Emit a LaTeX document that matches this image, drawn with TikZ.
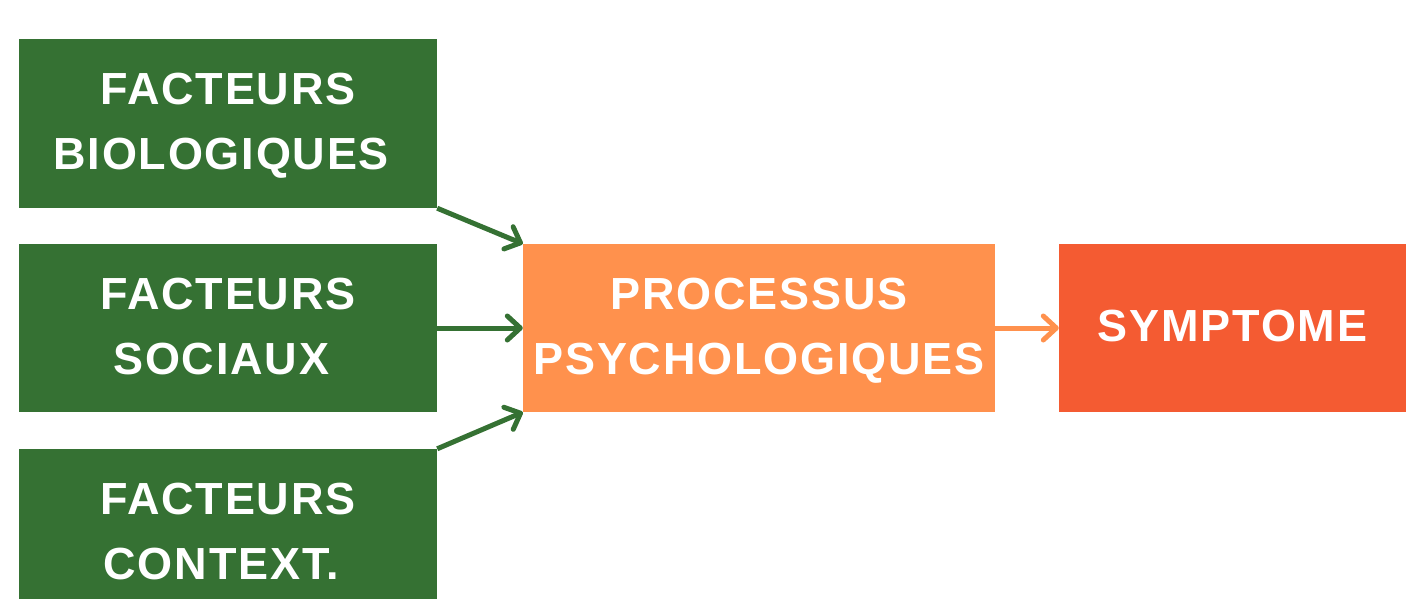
\documentclass[tikz,border=0pt]{standalone}
\usepackage{fontspec}
\setmainfont{Liberation Sans}[LetterSpace=4]
\usetikzlibrary{arrows.meta}
\definecolor{gbox}{HTML}{357133}
\definecolor{obox}{HTML}{FF914D}
\definecolor{rbox}{HTML}{F45B32}
\newcommand\mystrut{\rule[-13pt]{0pt}{53.5pt}}
\newcommand\tsp{\hspace*{0.3em}}
\tikzset{
  boxstyle/.style={fill=#1, draw=none, inner sep=0pt, text=white, align=center,
    minimum height=168pt, font=\fontsize{45}{65}\selectfont\bfseries},
  conn/.style={line width=5pt, draw=#1, -{Straight Barb[length=13pt,width=24pt,round]}}
}
\begin{document}
\begin{tikzpicture}[x=1pt,y=-1pt]
\useasboundingbox (0,0) rectangle (1406,598);
\clip (0,0) rectangle (1406,598);
\node[boxstyle=gbox, minimum width=418pt, minimum height=169pt] (bio) at (228,123.5) {\mystrut FACTEURS\\\mystrut BIOLOGIQUES\tsp};
\node[boxstyle=gbox, minimum width=418pt] (soc) at (228,328) {\mystrut FACTEURS\\\mystrut SOCIAUX\tsp};
\node[boxstyle=gbox, minimum width=418pt] (ctx) at (228,533) {\mystrut FACTEURS\\\mystrut CONTEXT.\tsp};
\node[boxstyle=obox, minimum width=472pt] (psy) at (759,328) {\mystrut PROCESSUS\\\mystrut PSYCHOLOGIQUES};
\node[boxstyle=rbox, minimum width=347pt] (sym) at (1232.5,328) {\mystrut SYMPTOME};
\draw[conn=gbox] (bio.south east) -- (psy.north west);
\draw[conn=gbox] (soc.east) -- (psy.west);
\draw[conn=gbox] (ctx.north east) -- (psy.south west);
\draw[conn=obox] (psy.east) -- (sym.west);
\end{tikzpicture}
\end{document}
